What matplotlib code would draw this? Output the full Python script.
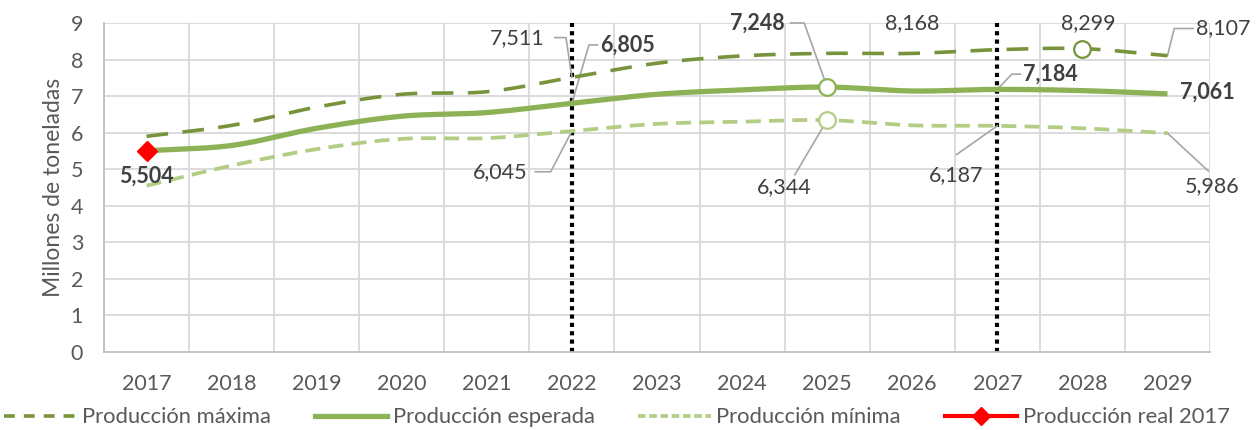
import numpy as np
import matplotlib
matplotlib.use("Agg")
import matplotlib.pyplot as plt
from matplotlib.lines import Line2D

years = ["2017", "2018", "2019", "2020", "2021", "2022", "2023", "2024",
         "2025", "2026", "2027", "2028", "2029"]
prod_max = [5.90, 6.20, 6.70, 7.05, 7.12, 7.511, 7.90, 8.10, 8.17, 8.168, 8.27, 8.299, 8.107]
prod_esp = [5.504, 5.65, 6.12, 6.45, 6.55, 6.805, 7.05, 7.17, 7.248, 7.14, 7.184, 7.15, 7.061]
prod_min = [4.55, 5.10, 5.55, 5.83, 5.85, 6.045, 6.24, 6.30, 6.344, 6.20, 6.187, 6.12, 5.986]
prod_real_year = ["2017"]
prod_real = [5.504]
y_ticks = [0, 1, 2, 3, 4, 5, 6, 7, 8, 9]

C_MAX = "#77933C"
C_ESP = "#8DB255"
C_MIN = "#B3CD85"
C_TXT = "#595959"
C_LBL = "#404040"
FONT = ["Lato", "DejaVu Sans"]
plt.rcParams["font.family"] = FONT


def smooth(x, y, n=30):
    x = np.asarray(x, float)
    y = np.asarray(y, float)
    px = np.concatenate([[2 * x[0] - x[1]], x, [2 * x[-1] - x[-2]]])
    py = np.concatenate([[2 * y[0] - y[1]], y, [2 * y[-1] - y[-2]]])
    xs, ys = [], []
    for i in range(1, len(px) - 2):
        t = np.linspace(0, 1, n, endpoint=False)
        p0, p1, p2, p3 = py[i - 1], py[i], py[i + 1], py[i + 2]
        q0, q1, q2, q3 = px[i - 1], px[i], px[i + 1], px[i + 2]
        f = lambda a0, a1, a2, a3: 0.5 * ((2 * a1) + (-a0 + a2) * t +
                                          (2 * a0 - 5 * a1 + 4 * a2 - a3) * t ** 2 +
                                          (-a0 + 3 * a1 - 3 * a2 + a3) * t ** 3)
        xs.append(f(q0, q1, q2, q3))
        ys.append(f(p0, p1, p2, p3))
    xs.append([x[-1]])
    ys.append([y[-1]])
    return np.concatenate(xs), np.concatenate(ys)


fig = plt.figure(figsize=(12.59, 4.30), dpi=100)
ax = fig.add_axes([0.0826, 0.1814, 0.8785, 0.7651])

x = np.arange(len(years))
ax.set_xlim(-0.5, len(years) - 0.5)
ax.set_ylim(0, 9)

# grid
for yy in y_ticks[1:]:
    ax.axhline(yy, color="#D9D9D9", lw=1.3, zorder=0)
for xx in np.arange(-0.5, len(years) + 0.5, 1.0):
    ax.axvline(xx, color="#D9D9D9", lw=1.3, zorder=0)
for s in ["top", "right"]:
    ax.spines[s].set_visible(False)
ax.spines["left"].set_color("#BFBFBF")
ax.spines["bottom"].set_color("#BFBFBF")
ax.spines["left"].set_linewidth(1.3)
ax.spines["bottom"].set_linewidth(1.3)

# vertical dotted lines
for yr in ["2022", "2027"]:
    ax.axvline(years.index(yr), color="black", lw=3, ls=(0, (1, 1)), zorder=2)

sx, sy = smooth(x, prod_max)
ax.plot(sx, sy, color=C_MAX, lw=2.6, ls=(0, (6, 4)), solid_capstyle="butt", zorder=3)
sx, sy = smooth(x, prod_esp)
ax.plot(sx, sy, color=C_ESP, lw=3.8, zorder=4, solid_capstyle="butt")
sx, sy = smooth(x, prod_min)
ax.plot(sx, sy, color=C_MIN, lw=2.7, ls=(0, (4, 2.2)), zorder=3)

ri = [years.index(r) for r in prod_real_year]
ax.plot(ri, prod_real, marker="D", color="red", ms=10, ls="none", zorder=6)

# circle markers
i25 = years.index("2025")
i28 = years.index("2028")
ax.plot(i25, prod_esp[i25], "o", ms=12, mfc="white", mec=C_ESP, mew=1.6, zorder=5)
ax.plot(i25, prod_min[i25], "o", ms=12, mfc="white", mec=C_MIN, mew=1.6, zorder=5)
ax.plot(i28, prod_max[i28], "o", ms=12, mfc="white", mec=C_MAX, mew=1.6, zorder=5)

ax.set_xticks(x)
ax.set_xticklabels(years)
ax.set_yticks(y_ticks)
ax.tick_params(axis="both", length=0, labelsize=15.5, colors=C_TXT)
ax.tick_params(axis="x", pad=16)
ax.tick_params(axis="y", pad=15)
ax.set_ylabel("Millones de toneladas", fontsize=16.5, color=C_TXT, labelpad=5)


def fmt(v):
    return f"{v:.3f}".replace(".", ",")


def label(i, v, tx, ty, ha="center", bold=False, leader=None):
    ax.annotate(fmt(v), xy=(i, v), xytext=(tx, ty), textcoords="data",
                ha=ha, va="center", fontsize=15.5,
                fontweight="bold" if bold else "normal", color=C_LBL, zorder=7,
                clip_on=False, annotation_clip=False)
    if leader is not None:
        lx, ly = zip(*leader)
        ax.plot(list(lx) + [i], list(ly) + [v], color="#A6A6A6", lw=1.2,
                zorder=2.5, clip_on=False)


i22 = years.index("2022")
i27 = years.index("2027")
i29 = years.index("2029")
i26 = years.index("2026")

label(0, prod_esp[0], 0.0, 4.8, bold=True)
label(i22, prod_max[i22], i22 - 0.32, 8.6, ha="right", leader=[(i22 - 0.2, 8.6), (i22 - 0.07, 8.6)])
label(i22, prod_esp[i22], i22 + 0.33, 8.4, ha="left", bold=True, leader=[(i22 + 0.3, 8.4), (i22 + 0.2, 8.4)])
label(i22, prod_min[i22], i22 - 0.52, 4.93, ha="right", leader=[(i22 - 0.43, 4.93), (i22 - 0.25, 4.93)])
label(i25, prod_esp[i25], i25 - 0.5, 9.0, ha="right", bold=True, leader=[(i25 - 0.43, 9.0), (i25 - 0.27, 9.0)])
label(i26, prod_max[i26], i26, 9.0)
label(i25, prod_min[i25], i25 - 0.5, 4.5, leader=[(i25 - 0.38, 4.85)])
label(i27, prod_min[i27], i27 - 0.48, 4.85, leader=[(i27 - 0.48, 5.4)])
label(i27, prod_esp[i27], i27 + 0.3, 7.6, ha="left", bold=True, leader=[(i27 + 0.27, 7.6), (i27 + 0.17, 7.6)])
label(i28, prod_max[i28], i28 + 0.07, 9.0)
label(i29, prod_max[i29], i29 + 0.33, 8.85, ha="left", leader=[(i29 + 0.3, 8.85), (i29 + 0.08, 8.85)])
label(i29, prod_esp[i29], i29 + 0.15, 7.1, ha="left", bold=True)
label(i29, prod_min[i29], i29 + 0.52, 4.55, leader=[(i29 + 0.48, 4.95)])

handles = [
    Line2D([], [], color=C_MAX, lw=2.6, ls=(0, (3, 2.5))),
    Line2D([], [], color=C_ESP, lw=3.8),
    Line2D([], [], color=C_MIN, lw=2.7, ls=(0, (2, 1))),
    Line2D([], [], color="red", lw=3, marker="D", ms=9),
]
fig.legend(handles, ["Producción máxima", "Producción esperada", "Producción mínima", "Producción real 2017"],
           loc="lower center", bbox_to_anchor=(0.49, -0.04), ncol=4, frameon=False,
           fontsize=15.8, handlelength=3.3, columnspacing=2.0, handletextpad=0.25,
           labelcolor=C_TXT)

fig.savefig("out.png", dpi=100)
